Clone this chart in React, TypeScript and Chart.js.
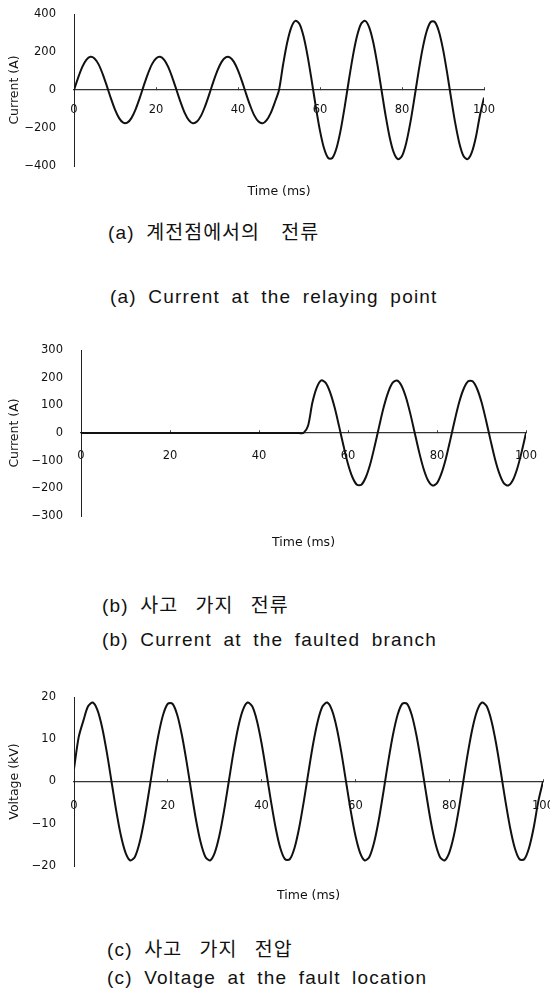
import React, { useEffect, useRef } from "react";
import { Chart, registerables } from "chart.js";

Chart.register(...registerables);

// ---------------- data ----------------
const TIME_MS = [
  0, 1, 2, 3, 4, 5, 6, 7, 8, 9, 10, 11, 12, 13, 14, 15, 16, 17, 18, 19, 20,
  21, 22, 23, 24, 25, 26, 27, 28, 29, 30, 31, 32, 33, 34, 35, 36, 37, 38, 39, 40,
  41, 42, 43, 44, 45, 46, 47, 48, 49, 50, 51, 52, 53, 54, 55, 56, 57, 58, 59, 60,
  61, 62, 63, 64, 65, 66, 67, 68, 69, 70, 71, 72, 73, 74, 75, 76, 77, 78, 79, 80,
  81, 82, 83, 84, 85, 86, 87, 88, 89, 90, 91, 92, 93, 94, 95, 96, 97, 98, 99, 100,
];

// (a) current at the relaying point, A
const CURRENT_RELAY_A = [
  0, 64, 120, 158, 175, 166, 135, 84, 22, -44, -103, -148, -172, -172, -148, -103, -44, 22, 84, 135, 166, 175, 158, 120, 64,
  0, -64, -120, -158, -175, -166, -135, -84, -22, 44, 103, 148, 172, 172, 148, 103, 44, -22, -84, -135, -166, -175, -158, -120, -64,
  0, 134, 250, 330, 364, 347, 281, 176, 46, -91, -215, -308, -358, -358, -308, -215, -91, 46, 176, 281, 347, 364, 330, 250, 134,
  0, -134, -250, -330, -364, -347, -281, -176, -46, 91, 215, 308, 358, 358, 308, 215, 91, -46, -176, -281, -347, -364, -330, -250, -134,
  -40,
];

// (b) current at the faulted branch, A
const CURRENT_FAULT_BRANCH_A = [
  0, 0, 0, 0, 0, 0, 0, 0, 0, 0, 0, 0, 0, 0, 0, 0, 0, 0, 0, 0, 0, 0, 0, 0, 0,
  0, 0, 0, 0, 0, 0, 0, 0, 0, 0, 0, 0, 0, 0, 0, 0, 0, 0, 0, 0, 0, 0, 0, 0, 0,
  0, 25, 110, 165, 190, 181, 146, 92, 24, -47, -112, -160, -187, -187, -160, -112, -47, 24, 92, 146, 181, 190, 172, 130, 70,
  0, -70, -130, -172, -190, -181, -146, -92, -24, 47, 112, 160, 187, 187, 160, 112, 47, -24, -92, -146, -181, -190, -172, -130, -70,
  0,
];

// (c) voltage at the fault location, kV
const VOLTAGE_FAULT_KV = [
  3, 10.5, 14.4, 17.8, 18.7, 16.9, 12.8, 6.9, 0, -6.9, -12.8, -16.9, -18.7, -17.8, -14.4, -9.0, -2.3, 4.7, 11.0, 15.8, 18.4, 18.4, 15.8, 11.0, 4.7,
  -2.3, -9.0, -14.4, -17.8, -18.7, -16.9, -12.8, -6.9, 0, 6.9, 12.8, 16.9, 18.7, 17.8, 14.4, 9.0, 2.3, -4.7, -11.0, -15.8, -18.4, -18.4, -15.8, -11.0, -4.7,
  2.3, 9.0, 14.4, 17.8, 18.7, 16.9, 12.8, 6.9, 0, -6.9, -12.8, -16.9, -18.7, -17.8, -14.4, -9.0, -2.3, 4.7, 11.0, 15.8, 18.4, 18.4, 15.8, 11.0, 4.7,
  -2.3, -9.0, -14.4, -17.8, -18.7, -16.9, -12.8, -6.9, 0, 6.9, 12.8, 16.9, 18.7, 17.8, 14.4, 9.0, 2.3, -4.7, -11.0, -15.8, -18.4, -18.4, -15.8, -11.0, -4.7,
  0,
];

const X_TICKS = [0, 20, 40, 60, 80, 100];
const Y_TICKS_A = [-400, -200, 0, 200, 400];
const Y_TICKS_B = [-300, -200, -100, 0, 100, 200, 300];
const Y_TICKS_C = [-20, -10, 0, 10, 20];

const X_TITLE = "Time (ms)";
const Y_TITLE_A = "Current (A)";
const Y_TITLE_B = "Current (A)";
const Y_TITLE_C = "Voltage (kV)";

const CAPTION_A_KO = "(a) 계전점에서의 전류";
const CAPTION_A_EN = "(a) Current at the relaying point";
const CAPTION_B_KO = "(b) 사고 가지 전류";
const CAPTION_B_EN = "(b) Current at the faulted branch";
const CAPTION_C_KO = "(c) 사고 가지 전압";
const CAPTION_C_EN = "(c) Voltage at the fault location";

// ---------------- layout / style ----------------
const W = 550;
const INK = "#111";
const TICK_FONT = { family: "'DejaVu Sans', sans-serif", size: 11.5 };
const TITLE_FONT = { family: "'DejaVu Sans', sans-serif", size: 12.5 };
const TITLE_LH = TITLE_FONT.size * 1.2;
const X_TICK_MARK = -3; // small marks drawn upward from the x axis line

const PANELS = [
  {
    key: "a", top: 0, height: 210, values: CURRENT_RELAY_A, yTicks: Y_TICKS_A, yTitle: Y_TITLE_A,
    area: { left: 74, right: 484, top: 14, bottom: 166 }, labelPad: 13, titleOffset: 102,
  },
  {
    key: "b", top: 330, height: 230, values: CURRENT_FAULT_BRANCH_A, yTicks: Y_TICKS_B, yTitle: Y_TITLE_B,
    area: { left: 81, right: 526, top: 20, bottom: 186 }, labelPad: 16, titleOffset: 110,
  },
  {
    key: "c", top: 670, height: 240, values: VOLTAGE_FAULT_KV, yTicks: Y_TICKS_C, yTitle: Y_TITLE_C,
    area: { left: 74, right: 543, top: 27, bottom: 196 }, labelPad: 18, titleOffset: 114.5,
  },
];

const CAPTIONS = [
  { text: CAPTION_A_KO, top: 219, left: 108, ko: true, ws: 16 },
  { text: CAPTION_A_EN, top: 285, left: 110, ko: false },
  { text: CAPTION_B_KO, top: 592, left: 102, ko: true, ws: 12 },
  { text: CAPTION_B_EN, top: 628, left: 102, ko: false },
  { text: CAPTION_C_KO, top: 936, left: 107, ko: true, ws: 12 },
  { text: CAPTION_C_EN, top: 966, left: 107, ko: false },
];

const EN_STYLE = {
  fontFamily: "'Liberation Sans', sans-serif",
  fontSize: 19,
  letterSpacing: "1.2px",
  wordSpacing: "5px",
};
const KO_STYLE = {
  fontFamily: "'Noto Sans CJK KR', 'Liberation Sans', sans-serif",
  fontSize: 19.5,
  letterSpacing: "1px",
};

const fmt = (v: number) => String(v).replace("-", "\u2212");

function ChartPanel({ panel }: { panel: any }) {
  const ref = useRef<HTMLCanvasElement | null>(null);
  useEffect(() => {
    if (!ref.current) return;
    const { area, height, yTicks } = panel;
    const yMin = yTicks[0];
    const yMax = yTicks[yTicks.length - 1];
    const chart = new Chart(ref.current, {
      type: "line",
      data: {
        datasets: [
          {
            data: TIME_MS.map((t, i) => ({ x: t, y: panel.values[i] })),
            borderColor: INK,
            borderWidth: 2,
            pointRadius: 0,
            tension: 0.3,
            fill: false,
          },
        ],
      },
      options: {
        animation: false,
        responsive: false,
        maintainAspectRatio: false,
        devicePixelRatio: 1,
        layout: {
          padding: { left: 0, top: area.top, right: W - area.right, bottom: height - area.bottom },
        },
        plugins: { legend: { display: false }, tooltip: { enabled: false }, title: { display: false } },
        scales: {
          x: {
            type: "linear",
            min: 0,
            max: 100,
            position: { y: 0 },
            afterBuildTicks: (s: any) => {
              s.ticks = X_TICKS.map((v) => ({ value: v }));
            },
            afterFit: (s: any) => {
              s.height = panel.titleOffset + TITLE_LH / 2;
              s.paddingLeft = 0;
              s.paddingRight = 0;
            },
            grid: {
              display: true,
              drawOnChartArea: false,
              drawTicks: true,
              tickLength: X_TICK_MARK,
              color: "#444",
              lineWidth: 1,
            },
            border: { display: true, color: "#333", width: 1.2 },
            ticks: {
              padding: panel.labelPad - X_TICK_MARK,
              font: TICK_FONT,
              color: INK,
              maxRotation: 0,
              autoSkip: false,
            },
            title: { display: true, text: X_TITLE, font: TITLE_FONT, color: INK, padding: 0 },
          },
          y: {
            type: "linear",
            position: "left",
            min: yMin,
            max: yMax,
            afterBuildTicks: (s: any) => {
              s.ticks = yTicks.map((v: number) => ({ value: v }));
            },
            afterFit: (s: any) => {
              s.width = area.left;
              s.paddingTop = 0;
              s.paddingBottom = 0;
            },
            grid: { display: false },
            border: { display: true, color: "#222", width: 1 },
            ticks: {
              padding: 10,
              font: TICK_FONT,
              color: INK,
              autoSkip: false,
              callback: (v: any) => fmt(Number(v)),
            },
            title: {
              display: true,
              text: panel.yTitle,
              font: TITLE_FONT,
              color: INK,
              padding: { top: 7.5, bottom: 0 },
            },
          },
        },
      },
    } as any);
    return () => chart.destroy();
  }, [panel]);
  return (
    <canvas
      ref={ref}
      width={W}
      height={panel.height}
      style={{ position: "absolute", left: 0, top: panel.top, width: W, height: panel.height }}
    />
  );
}

function Caption({ c }: { c: any }) {
  const base: any = {
    position: "absolute",
    left: c.left,
    top: c.top,
    lineHeight: "24px",
    height: 24,
    whiteSpace: "pre",
    color: INK,
  };
  if (!c.ko) {
    return <div style={{ ...base, ...EN_STYLE }}>{c.text}</div>;
  }
  const cut = c.text.indexOf(" ") + 1;
  const label = c.text.slice(0, cut);
  const rest = c.text.slice(cut);
  return (
    <div style={base}>
      <span style={EN_STYLE}>{label}</span>
      <span style={{ ...KO_STYLE, wordSpacing: `${c.ws}px` }}>{rest}</span>
    </div>
  );
}

export default function App() {
  return (
    <div style={{ position: "absolute", left: 0, top: 0, width: W, height: 997, background: "#fff", overflow: "hidden" }}>
      {PANELS.map((p) => (
        <ChartPanel key={p.key} panel={p} />
      ))}
      {CAPTIONS.map((c, i) => (
        <Caption key={i} c={c} />
      ))}
    </div>
  );
}
